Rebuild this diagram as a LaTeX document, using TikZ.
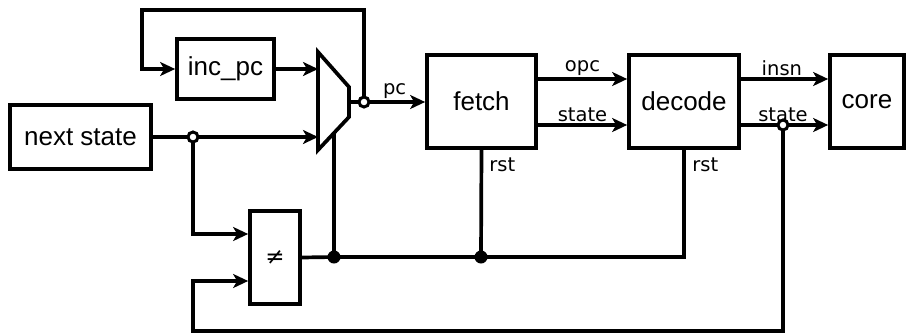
\documentclass[tikz,border=0pt]{standalone}
\usepackage{fontspec}
\setmainfont{Liberation Sans}
\newfontfamily\lblfont{DejaVu Sans}
\usetikzlibrary{arrows.meta,calc}
\begin{document}
\begin{tikzpicture}[x=1pt,y=-1pt, line width=3.7pt,
 blk/.style={draw, rectangle, inner sep=0pt, font=\fontsize{26}{29}\selectfont},
 wire/.style={-{Stealth[length=15pt,width=14pt,inset=4pt]}},
 lbl/.style={font=\lblfont\fontsize{19.5}{22}\selectfont, inner sep=1.5pt},
 odot/.style={circle, draw, fill=white, line width=3pt, minimum size=10pt, inner sep=0pt},
 fdot/.style={circle, fill=black, minimum size=13pt, inner sep=0pt}]
\useasboundingbox (0,0) rectangle (907,335);
% blocks
\node[blk, minimum width=141pt, minimum height=64pt] (ns) at (80.5,137) {next state};
\node[blk, minimum width=97pt, minimum height=60pt] (inc) at (225.5,69) {inc\_pc};
\node[blk, minimum width=109pt, minimum height=93pt] (fetch) at (481.5,101.5) {fetch};
\node[blk, minimum width=110pt, minimum height=93pt] (dec) at (684,101.5) {decode};
\node[blk, minimum width=74pt, minimum height=93pt] (core) at (867,101.5) {core};
\node[blk, minimum width=50pt, minimum height=93pt, font=\lblfont\fontsize{23}{25}\selectfont] (neq) at (275,257.5) {≠};
% mux
\coordinate (mtl) at (318,52);
\coordinate (mtr) at (349,87);
\coordinate (mbr) at (349,117);
\coordinate (mbl) at (318,150);
\draw[line join=miter] (mtl) -- (mtr) -- (mbr) -- (mbl) -- cycle;
\coordinate (min1) at (318,69);
\coordinate (min2) at (318,137);
\coordinate (mout) at (349,102);
\coordinate (msel) at (334,133);
% junctions
\coordinate (j1) at (193,137);
\coordinate (j2) at (364,102);
\coordinate (j3) at (783,125);
\coordinate (top) at (142,10);
\coordinate (bot) at (193,331);
\coordinate (d1) at (334,257);
\coordinate (d2) at (481,257);
\coordinate (n1) at ($(neq.west)+(0,-23.5)$);
\coordinate (n2) at ($(neq.west)+(0,23.5)$);
% wires
\draw[wire] (inc.east) -- (min1);
\draw (ns.east) -- (j1);
\draw[wire] (j1) -- (min2);
\draw[wire] (j1) |- (n1);
\draw (mout) -- (j2);
\draw[wire] (j2) -- (fetch.west |- j2) node[lbl, midway, above] {pc};
\draw[wire] (j2) |- (top) |- (inc.west);
\draw[wire] (fetch.east |- 0,79) -- (dec.west |- 0,79) node[lbl, midway, above] {opc};
\draw[wire] (fetch.east |- 0,125) -- (dec.west |- 0,125) node[lbl, midway, above] {state};
\draw[wire] (dec.east |- 0,79) -- (core.west |- 0,79) node[lbl, pos=0.47, above] {insn};
\draw (dec.east |- j3) -- (j3);
\draw[wire] (j3) -- (core.west |- j3) node[lbl, pos=0, above] {state};
\draw[wire] (j3) |- (bot) |- (n2);
\draw (msel) -- (d1);
\draw (neq.east) -- (d1) -- (d2) -| (dec.south);
\draw (fetch.south) -- (d2);
\node[lbl, anchor=west] (r1) at (486,165) {rst};
\node[lbl, anchor=west] (r2) at (689,165) {rst};
% dots
\node[fdot] at (d1) {};
\node[fdot] at (d2) {};
\node[odot] at (j1) {};
\node[odot] at (j2) {};
\node[odot] at (j3) {};
\end{tikzpicture}
\end{document}
